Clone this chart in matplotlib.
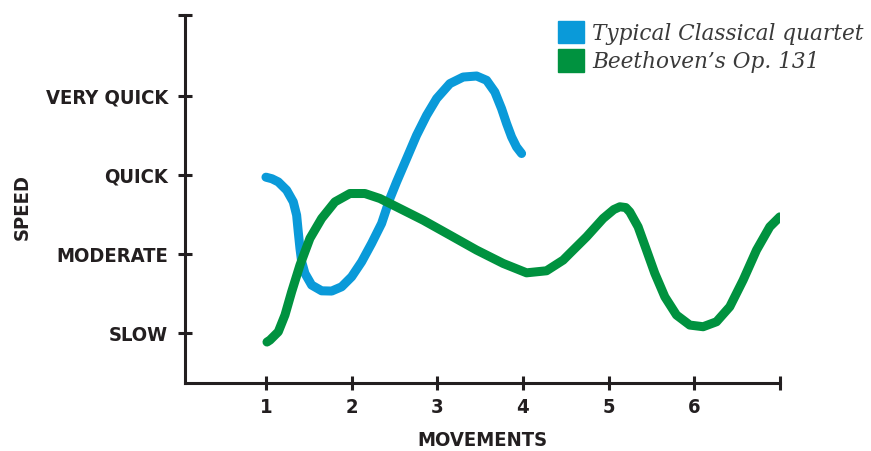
import matplotlib
matplotlib.use("Agg")
import matplotlib.pyplot as plt
from matplotlib.patches import Patch

# valores (movimiento, velocidad)
clasico_x = [1.0, 1.07, 1.144, 1.242, 1.319, 1.358, 1.377, 1.397, 1.417, 1.455,
             1.533, 1.65, 1.767, 1.883, 2.0, 2.117, 2.233, 2.35, 2.447, 2.525,
             2.642, 2.758, 2.875, 2.992, 3.147, 3.302, 3.459, 3.575, 3.672, 3.75,
             3.809, 3.867, 3.925, 3.984]
clasico_y = [2.975, 2.955, 2.915, 2.81, 2.662, 2.494, 2.282, 2.072, 1.903, 1.756,
             1.608, 1.535, 1.532, 1.586, 1.713, 1.903, 2.135, 2.389, 2.705, 2.915,
             3.211, 3.506, 3.759, 3.971, 4.161, 4.244, 4.257, 4.203, 4.054, 3.844,
             3.654, 3.485, 3.358, 3.275]

op131_x = [1.012, 1.047, 1.144, 1.222, 1.3, 1.397, 1.513, 1.65, 1.805, 1.98,
           2.155, 2.33, 2.525, 2.835, 3.147, 3.459, 3.769, 4.042, 4.275, 4.469,
           4.547, 4.742, 4.936, 5.06, 5.131, 5.2, 5.247, 5.344, 5.442, 5.539,
           5.656, 5.792, 5.947, 6.103, 6.259, 6.414, 6.57, 6.726, 6.881, 6.998]
op131_y = [0.886, 0.911, 1.016, 1.228, 1.523, 1.861, 2.199, 2.452, 2.662, 2.768,
           2.768, 2.705, 2.599, 2.43, 2.241, 2.051, 1.882, 1.763, 1.789, 1.924,
           2.009, 2.219, 2.452, 2.565, 2.6, 2.59, 2.535, 2.346, 2.051, 1.756,
           1.459, 1.228, 1.101, 1.08, 1.143, 1.333, 1.671, 2.051, 2.346, 2.472]

etiquetas_y = ["SLOW", "MODERATE", "QUICK", "VERY QUICK"]
etiquetas_x = ["1", "2", "3", "4", "5", "6", ""]

azul = "#0a9ad9"
verde = "#00923f"
negro = "#231f20"
fuente = ["DejaVu Sans"]

fig = plt.figure(figsize=(8.71, 4.51), dpi=100)
ax = fig.add_axes([0.2124, 0.1508, 0.6831, 0.8159])

ax.plot(clasico_x, clasico_y, color=azul, lw=6.5, solid_capstyle="round", solid_joinstyle="round")
ax.plot(op131_x, op131_y, color=verde, lw=6.5, solid_capstyle="round", solid_joinstyle="round")

ax.set_xlim(0.055, 7)
ax.set_ylim(0.367, 5.03)

ax.set_xticks(range(1, 8))
ax.set_xticklabels(etiquetas_x)
ax.set_yticks([1, 2, 3, 4, 5.03])
ax.set_yticklabels(etiquetas_y + [""])

for lado in ["top", "right"]:
    ax.spines[lado].set_visible(False)
for lado in ["left", "bottom"]:
    ax.spines[lado].set_linewidth(2.2)
    ax.spines[lado].set_color(negro)
    ax.spines[lado].set_capstyle("projecting")

ax.tick_params(axis="both", direction="inout", length=10, width=2.2, color=negro)
ax.tick_params(axis="y", pad=7)
ax.tick_params(axis="x", pad=6)
for t in ax.get_xticklabels() + ax.get_yticklabels():
    t.set_fontfamily(fuente)
    t.set_fontstretch("condensed")
    t.set_fontweight("bold")
    t.set_fontsize(14.5)
    t.set_color(negro)

ax.set_xlabel("MOVEMENTS", fontfamily=fuente, fontstretch="condensed", fontweight="bold",
              fontsize=14.5, color=negro, labelpad=10)
fig.text(0.025, 0.54, "SPEED", rotation=90, ha="center", va="center", fontstretch="condensed",
         fontfamily=fuente, fontweight="bold", fontsize=14.5, color=negro)

handles = [Patch(color=azul), Patch(color=verde)]
ley = fig.legend(handles, ["Typical Classical quartet", "Beethoven\u2019s Op. 131"],
                 loc="upper left", bbox_to_anchor=(0.641, 0.953), frameon=False,
                 handlelength=1.2, handleheight=1.2, handletextpad=0.35,
                 labelspacing=0.22, borderpad=0, borderaxespad=0,
                 prop={"family": "DejaVu Serif", "style": "italic", "size": 15.6})
for t in ley.get_texts():
    t.set_color("#3a3a3a")

fig.savefig("out.png", dpi=100)
